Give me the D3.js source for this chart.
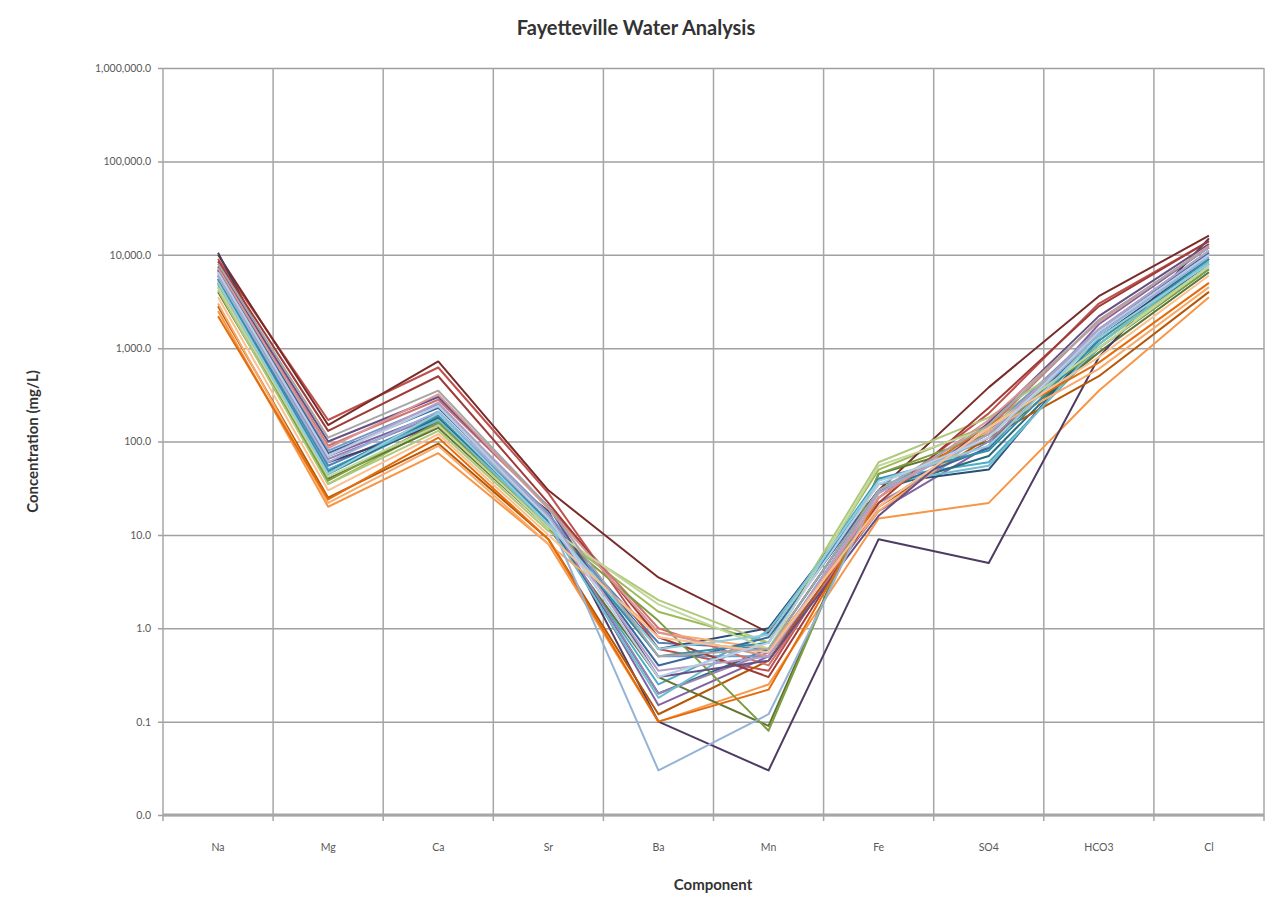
<!DOCTYPE html>
<html>
<head>
<meta charset="utf-8">
<script src="https://cdn.jsdelivr.net/npm/d3@7"></script>
<style>
  body { margin: 0; background: #fff; }
  text { font-family: Lato, "Open Sans", sans-serif; }
</style>
</head>
<body>
<svg width="1268" height="901"></svg>
<script>
// components along the x axis
var components = ["Na", "Mg", "Ca", "Sr", "Ba", "Mn", "Fe", "SO4", "HCO3", "Cl"];

// one value per sample (32 samples), mg/L
var na   = [6000, 9000, 5000, 7000, 4500, 2500, 5500, 10000, 4000, 10500, 5000, 2800, 6500, 7000, 4200, 6000, 5200, 3000, 6800, 8500, 4800, 7500, 5500, 2200, 5800, 7200, 4500, 6200, 5000, 3500, 8000, 6500];
var mg   = [55, 170, 35, 70, 45, 20, 50, 150, 40, 60, 45, 25, 80, 90, 35, 65, 50, 22, 75, 130, 38, 100, 48, 24, 60, 85, 42, 70, 45, 30, 110, 70];
var ca   = [180, 620, 150, 200, 170, 75, 160, 720, 140, 150, 180, 95, 250, 280, 130, 190, 170, 90, 230, 500, 160, 300, 190, 110, 210, 320, 150, 260, 200, 120, 350, 240];
var sr   = [14, 28, 12, 16, 13, 8, 15, 30, 12, 18, 14, 9, 17, 20, 11, 15, 13, 8, 16, 22, 12, 20, 14, 9, 15, 19, 12, 16, 13, 10, 20, 15];
var ba   = [0.7, 0.6, 1.5, 0.15, 0.25, 0.1, 0.6, 3.5, 0.3, 0.1, 0.2, 0.12, 0.5, 1.0, 2.0, 0.2, 0.18, 0.9, 0.4, 0.8, 1.2, 0.3, 0.5, 0.1, 0.03, 0.9, 1.8, 0.35, 0.6, 0.8, 0.5, 0.3];
var mn   = [0.6, 0.35, 0.7, 0.5, 0.9, 0.25, 1.0, 0.9, 0.09, 0.03, 0.6, 0.45, 0.5, 0.4, 0.7, 0.55, 0.95, 0.6, 0.8, 0.3, 0.08, 0.45, 0.7, 0.22, 0.12, 0.5, 0.6, 0.5, 0.85, 0.55, 0.6, 0.7];
var fe   = [30, 25, 50, 18, 40, 15, 35, 30, 45, 9, 30, 20, 28, 20, 60, 22, 35, 18, 30, 22, 45, 16, 40, 25, 30, 25, 55, 28, 38, 20, 30, 35];
var so4  = [120, 200, 150, 90, 60, 22, 50, 380, 100, 5, 70, 110, 130, 140, 180, 100, 55, 130, 85, 230, 120, 160, 80, 150, 110, 170, 140, 120, 90, 140, 150, 110];
var hco3 = [1500, 3000, 1200, 1800, 1000, 350, 1300, 3600, 900, 800, 1100, 500, 1600, 2000, 1100, 1400, 1100, 600, 1500, 2800, 1000, 2200, 1200, 700, 1400, 1900, 1000, 1600, 1300, 800, 2000, 1500];
var cl   = [9000, 14000, 8000, 12000, 7000, 3500, 9000, 16000, 6500, 15000, 8000, 4000, 11000, 12000, 7500, 10000, 8500, 4500, 10500, 14000, 7000, 13000, 9000, 5000, 9500, 12500, 7500, 11000, 8000, 6000, 12000, 10000];

var yTicks = [0.01, 0.1, 1, 10, 100, 1000, 10000, 100000, 1000000];

var colors = ["#4F81BD", "#C0504D", "#9BBB59", "#8064A2", "#4BACC6", "#F79646",
              "#2C4D75", "#772C2A", "#5F7530", "#4D3B62", "#276A7C", "#B65708",
              "#729ACA", "#CD7371", "#AFC97A", "#9983B5", "#6FBDD1", "#F9AB6B",
              "#3A679C", "#9F3B38", "#7E9C40", "#664F83", "#358EA7", "#E46C0A",
              "#95B3D7", "#D99694", "#C3D69B", "#B2A1C7", "#93CDDD", "#FAC090",
              "#A6A6A6", "#B9CDE5"];

var columns = [na, mg, ca, sr, ba, mn, fe, so4, hco3, cl];
var samples = na.map(function(d, i) {
  return columns.map(function(col, j) { return { comp: components[j], value: col[i] }; });
});

var svg = d3.select("svg");
var margin = { left: 163, right: 4, top: 68, bottom: 86 };
var width = 1268 - margin.left - margin.right,
    height = 901 - margin.top - margin.bottom;

var g = svg.append("g").attr("transform", "translate(" + margin.left + "," + margin.top + ")");

var x = d3.scaleBand().domain(components).range([0, width]);
var y = d3.scaleLog().domain([0.01, 1000000]).range([height, 0]);

// horizontal gridlines + y labels
var yAxis = g.append("g")
  .call(d3.axisLeft(y).tickValues(yTicks).tickFormat(d3.format(",.1f")).tickSize(-width).tickPadding(12));
yAxis.select(".domain").remove();
yAxis.selectAll("line").attr("stroke", "#a0a0a0").attr("stroke-width", 1.5).attr("x1", -5);
yAxis.selectAll("text").attr("fill", "#595959").style("font-size", "10.5px");

// vertical gridlines at category boundaries
var bounds = components.map(function(c) { return x(c); }).concat([width]);
g.append("g").selectAll("line")
  .data(bounds)
  .enter().append("line")
  .attr("x1", function(d) { return d; })
  .attr("x2", function(d) { return d; })
  .attr("y1", 0)
  .attr("y2", height + 6)
  .attr("stroke", "#a6a6a6")
  .attr("stroke-width", 1.5);

g.append("line")
  .attr("x1", 0).attr("x2", width)
  .attr("y1", height).attr("y2", height)
  .attr("stroke", "#a6a6a6").attr("stroke-width", 3);

// x labels
g.append("g").selectAll("text")
  .data(components)
  .enter().append("text")
  .attr("x", function(d) { return x(d) + x.bandwidth() / 2; })
  .attr("y", height + 36)
  .attr("text-anchor", "middle")
  .attr("fill", "#595959")
  .style("font-size", "10.5px")
  .text(function(d) { return d; });

var line = d3.line()
  .x(function(d) { return x(d.comp) + x.bandwidth() / 2; })
  .y(function(d) { return y(d.value); });

g.append("g").selectAll("path")
  .data(samples)
  .enter().append("path")
  .attr("d", line)
  .attr("fill", "none")
  .attr("stroke", function(d, i) { return colors[i % colors.length]; })
  .attr("stroke-width", 2)
  .attr("stroke-linejoin", "round");

// titles
svg.append("text")
  .attr("x", 636).attr("y", 35)
  .attr("text-anchor", "middle")
  .style("font-size", "20px").style("font-weight", "bold")
  .attr("fill", "#333")
  .text("Fayetteville Water Analysis");

svg.append("text")
  .attr("x", 713).attr("y", 890)
  .attr("text-anchor", "middle")
  .style("font-size", "15px").style("font-weight", "bold")
  .attr("fill", "#333")
  .text("Component");

svg.append("text")
  .attr("transform", "translate(38," + (margin.top + height / 2) + ") rotate(-90)")
  .attr("text-anchor", "middle")
  .style("font-size", "15px").style("font-weight", "bold")
  .attr("fill", "#333")
  .text("Concentration (mg/L)");
</script>
</body>
</html>
